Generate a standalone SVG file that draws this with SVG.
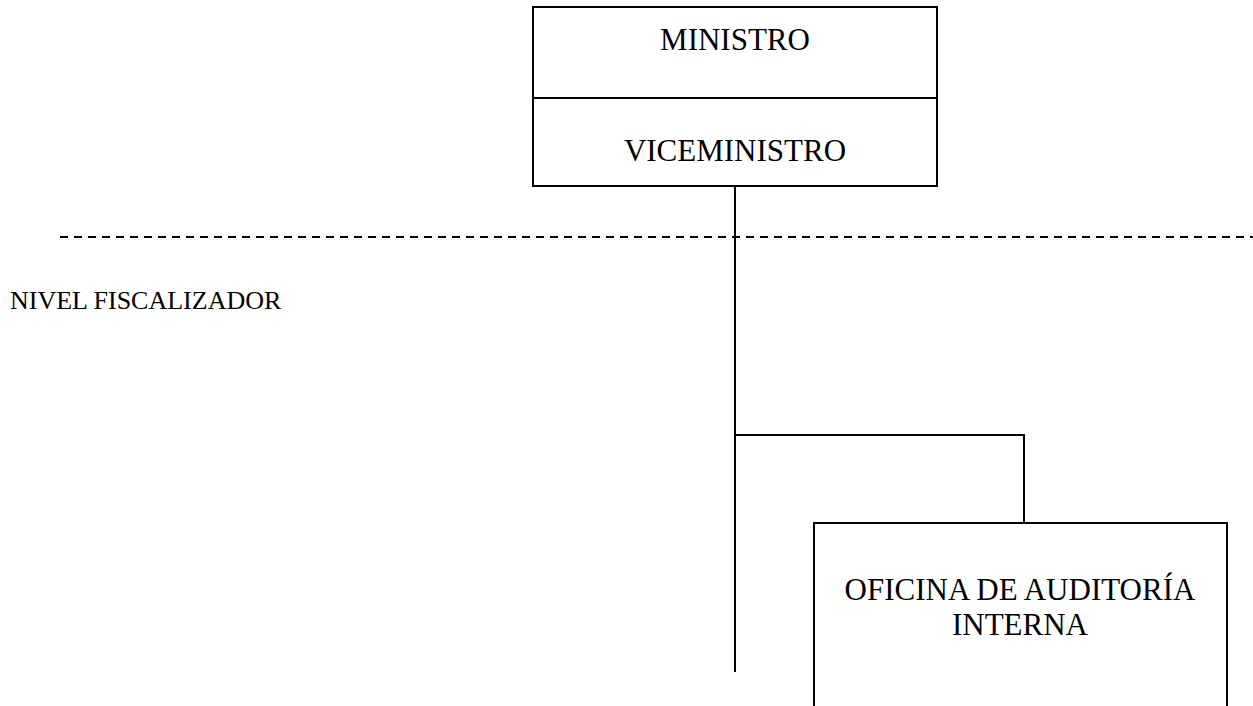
<svg xmlns="http://www.w3.org/2000/svg" width="1253" height="706" viewBox="0 0 1253 706">
<style>
.box{fill:#fff;stroke:#000;stroke-width:2}
.ln{fill:none;stroke:#000;stroke-width:2}
.t{font-family:"Liberation Serif","Times New Roman",serif;font-size:31px;fill:#000;text-anchor:middle}
.lbl{font-family:"Liberation Serif","Times New Roman",serif;font-size:26px;fill:#000}
</style>
<rect width="1253" height="706" fill="#fff"/>
<line x1="60" y1="237" x2="1253" y2="237" stroke="#000" stroke-width="2" stroke-dasharray="8,6"/>
<text class="lbl" x="10" y="309">NIVEL FISCALIZADOR</text>
<g id="connectors">
<line class="ln" x1="735" y1="186" x2="735" y2="672"/>
<polyline class="ln" points="735,435 1024,435 1024,523"/>
</g>
<g id="ministro">
<rect class="box" x="533" y="7" width="404" height="91"/>
<text class="t" x="735" y="50">MINISTRO</text>
</g>
<g id="viceministro">
<rect class="box" x="533" y="98" width="404" height="88"/>
<text class="t" x="735" y="161">VICEMINISTRO</text>
</g>
<g id="auditoria">
<rect class="box" x="814" y="523" width="413" height="200"/>
<text class="t" x="1020" y="600">OFICINA DE AUDITORÍA</text>
<text class="t" x="1020" y="635">INTERNA</text>
</g>
</svg>
